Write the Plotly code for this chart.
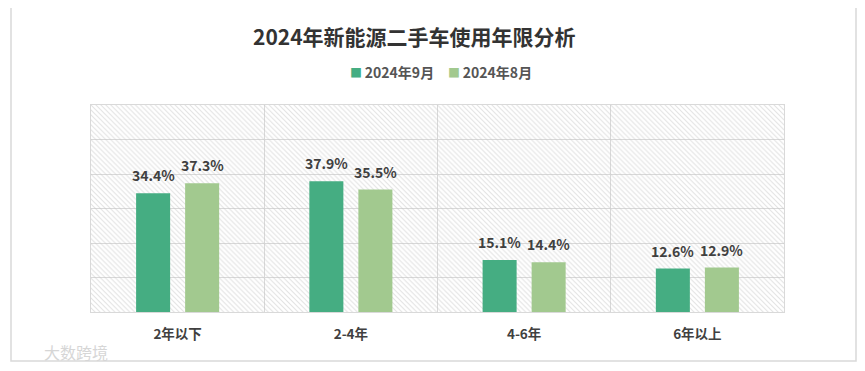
import plotly.graph_objects as go

categories = ["2年以下", "2-4年", "4-6年", "6年以上"]
sep_values = [34.4, 37.9, 15.1, 12.6]
aug_values = [37.3, 35.5, 14.4, 12.9]
series_names = ["2024年9月", "2024年8月"]
title_text = "2024年新能源二手车使用年限分析"

FONT = "Noto Sans CJK SC, Noto Sans, sans-serif"
C_SEP = "#45ad82"
C_AUG = "#a2c98f"

# page body has 8px offset; plot area in screenshot: x 91..784, y 105..312
OFF = 8
L, R_EDGE, T, B_EDGE = 91 - OFF, 784 - OFF, 105 - OFF, 312 - OFF
W, H = 865 - 2 * OFF, 371 - 2 * OFF
PW, PH = R_EDGE - L, B_EDGE - T

BARGAP = 0.434
GROUPGAP = 0.306
SLOT = PW / len(categories) * (1 - BARGAP) / 2  # px per bar slot


def px_x(x):
    return (x - OFF - L) / PW


def px_y(y):
    return (B_EDGE - (y - OFF)) / PH


fig = go.Figure()

# hatched plot-area background
fig.add_trace(go.Bar(
    x=[0.5], y=[1], width=[1], xaxis="x", yaxis="y",
    marker=dict(color="rgba(0,0,0,0)", line=dict(width=0),
                pattern=dict(shape="\\", fgcolor="#c4c4c4", bgcolor="rgba(0,0,0,0)",
                             size=3.5, solidity=0.3)),
    showlegend=False, hoverinfo="skip",
))

annotations = []
series = [(series_names[0], sep_values, C_SEP), (series_names[1], aug_values, C_AUG)]
for i, (name, vals, col) in enumerate(series):
    fig.add_trace(go.Bar(
        x=categories, y=vals, name=name, xaxis="x2", yaxis="y2",
        marker=dict(color=col, line=dict(width=0)),
        showlegend=False,
    ))
    shift = (-0.5 if i == 0 else 0.5) * SLOT
    for c, v in zip(categories, vals):
        annotations.append(dict(
            text=f"<b>{v:.1f}%</b>", x=c, y=v, xref="x2", yref="y2",
            xshift=shift, yshift=6, xanchor="center", yanchor="bottom",
            showarrow=False, font=dict(family=FONT, size=14, color="#404040")))

# legend drawn as text items
legend_x = [349, 447]
for (name, vals, col), lx in zip(series, legend_x):
    annotations.append(dict(
        text=f'<span style="color:{col};font-size:12px">■</span>\u2009<b>{name}</b>',
        xref="paper", yref="paper", x=px_x(lx - 1), y=px_y(72),
        xanchor="left", yanchor="middle", showarrow=False,
        font=dict(family=FONT, size=14, color="#555555")))

annotations += [
    dict(text=f"<b>{title_text}</b>", xref="paper", yref="paper",
         x=px_x(414), y=px_y(36), xanchor="center", yanchor="middle",
         showarrow=False, font=dict(family=FONT, size=21, color="#333333")),
    dict(text="大数跨境", xref="paper", yref="paper",
         x=px_x(42), y=px_y(352), xanchor="left", yanchor="middle",
         showarrow=False, font=dict(family=FONT, size=16, color="#d6d6d6")),
]

fig.update_layout(
    width=W, height=H,
    margin=dict(l=L, r=W - R_EDGE, t=T, b=H - B_EDGE, pad=0),
    paper_bgcolor="white", plot_bgcolor="white",
    barmode="group", bargap=BARGAP, bargroupgap=GROUPGAP,
    showlegend=False,
    xaxis=dict(range=[0, 1], visible=False, fixedrange=True),
    yaxis=dict(range=[0, 1], visible=False, fixedrange=True),
    xaxis2=dict(overlaying="x", type="category", tickson="boundaries",
                showgrid=True, gridcolor="#d9d9d9", gridwidth=1,
                showline=True, linecolor="#d9d9d9", linewidth=1, mirror=True,
                ticks="", tickfont=dict(family=FONT, size=13.5, color="#404040", weight="bold"),
                ticklabelstandoff=10),
    yaxis2=dict(overlaying="y", range=[0, 60], dtick=10, showgrid=True,
                gridcolor="#d9d9d9", gridwidth=1, showticklabels=False,
                showline=True, linecolor="#d9d9d9", mirror=True, zeroline=False),
    font=dict(family=FONT),
    shapes=[dict(type="rect", xref="paper", yref="paper",
                 x0=px_x(11), x1=px_x(856), y0=px_y(361), y1=px_y(4),
                 line=dict(color="#d9d9d9", width=1.5), fillcolor="rgba(0,0,0,0)", layer="below")],
    annotations=annotations,
)

fig.write_html("out.html")
